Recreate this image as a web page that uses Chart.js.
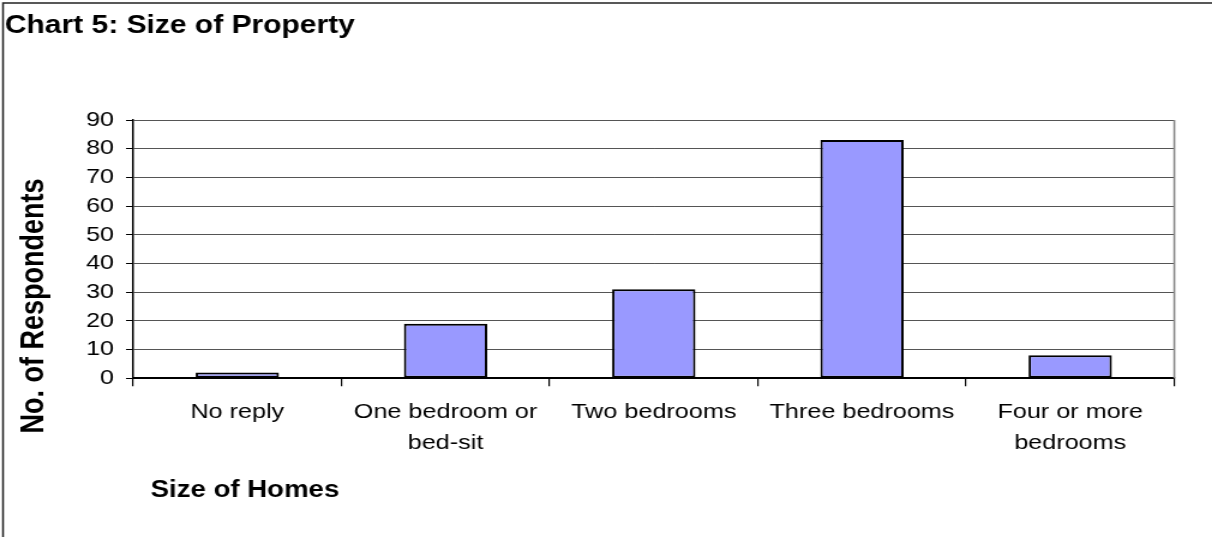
<!DOCTYPE html>
<html>
<head>
<meta charset="utf-8">
<title>Chart 5: Size of Property</title>
<script src="https://cdn.jsdelivr.net/npm/chart.js@4/dist/chart.umd.min.js"></script>
<style>
  html, body { margin: 0; padding: 0; background: #fff; overflow: hidden; }
  /* the sheet is drawn narrow and widened, like the original pasted chart */
  .sheet { width: 1010px; height: 537px; transform: scaleX(1.2); transform-origin: 0 0; }
</style>
</head>
<body>
<div class="sheet">
  <canvas id="chartProperty" width="1010" height="537"></canvas>
</div>
<script>
// Survey data
const categories = ['No reply', ['One bedroom or', 'bed-sit'], 'Two bedrooms', 'Three bedrooms', ['Four or more', 'bedrooms']];
const respondents = [2, 19, 31, 83, 8];
const yMin = 0;
const yMax = 90;
const yStep = 10;

const chartTitle = 'Chart 5: Size of Property';
const xTitle = 'Size of Homes';
const yTitle = 'No. of Respondents';

const fontFamily = "'Liberation Sans', Arial, sans-serif";

// frame, headings and the right edge of the plot
const decorations = {
    id: 'decorations',
    afterDraw(chart) {
        const ctx = chart.ctx;
        const area = chart.chartArea;
        ctx.save();

        // outer frame (top and left only)
        ctx.strokeStyle = '#222';
        ctx.lineWidth = 1.5;
        ctx.beginPath();
        ctx.moveTo(2.5, chart.height);
        ctx.lineTo(2.5, 3);
        ctx.lineTo(chart.width, 3);
        ctx.stroke();

        // plot area right edge
        ctx.strokeStyle = '#888';
        ctx.lineWidth = 1.6;
        ctx.beginPath();
        ctx.moveTo(area.right, area.top);
        ctx.lineTo(area.right, area.bottom);
        ctx.stroke();

        ctx.fillStyle = '#000';
        ctx.textBaseline = 'alphabetic';
        ctx.textAlign = 'left';
        ctx.font = 'bold 25px ' + fontFamily;
        ctx.fillText(chartTitle, 4, 33);

        ctx.font = 'bold 23px ' + fontFamily;
        ctx.fillText(xTitle, 125.5, 497);

        ctx.font = 'bold 27px ' + fontFamily;
        ctx.translate(29, 306);
        ctx.rotate(-Math.PI / 2);
        ctx.textAlign = 'center';
        ctx.textBaseline = 'middle';
        ctx.fillText(yTitle, 0, 0);
        ctx.restore();
    }
};

const ctx = document.getElementById('chartProperty').getContext('2d');

new Chart(ctx, {
    type: 'bar',
    data: {
        labels: categories,
        datasets: [{
            data: respondents,
            backgroundColor: '#9999ff',
            borderColor: '#000',
            borderWidth: 2,
            borderSkipped: false,
            categoryPercentage: 1.0,
            barPercentage: 0.4
        }]
    },
    options: {
        responsive: false,
        animation: false,
        devicePixelRatio: 1,
        layout: {
            padding: { top: 120, right: 31.4, bottom: 58.7, left: 61 }
        },
        plugins: {
            legend: { display: false },
            title: { display: false },
            tooltip: { enabled: false }
        },
        scales: {
            x: {
                ticks: {
                    color: '#000',
                    font: { family: fontFamily, size: 21, lineHeight: 1.5 },
                    padding: 10,
                    maxRotation: 0,
                    autoSkip: false
                },
                grid: {
                    drawOnChartArea: false,
                    offset: true,
                    tickLength: 8,
                    color: '#000',
                    lineWidth: 1.2
                },
                border: { color: '#000', width: 2 },
                afterFit(scale) { scale.height = 100; }
            },
            y: {
                min: yMin,
                max: yMax,
                ticks: {
                    stepSize: yStep,
                    color: '#000',
                    font: { family: fontFamily, size: 21 },
                    padding: 10
                },
                grid: {
                    color: '#555',
                    lineWidth: 1,
                    tickLength: 6,
                    tickColor: '#000'
                },
                border: { color: '#000', width: 1.5 },
                afterFit(scale) { scale.width = 50; }
            }
        }
    },
    plugins: [decorations]
});
</script>
</body>
</html>
